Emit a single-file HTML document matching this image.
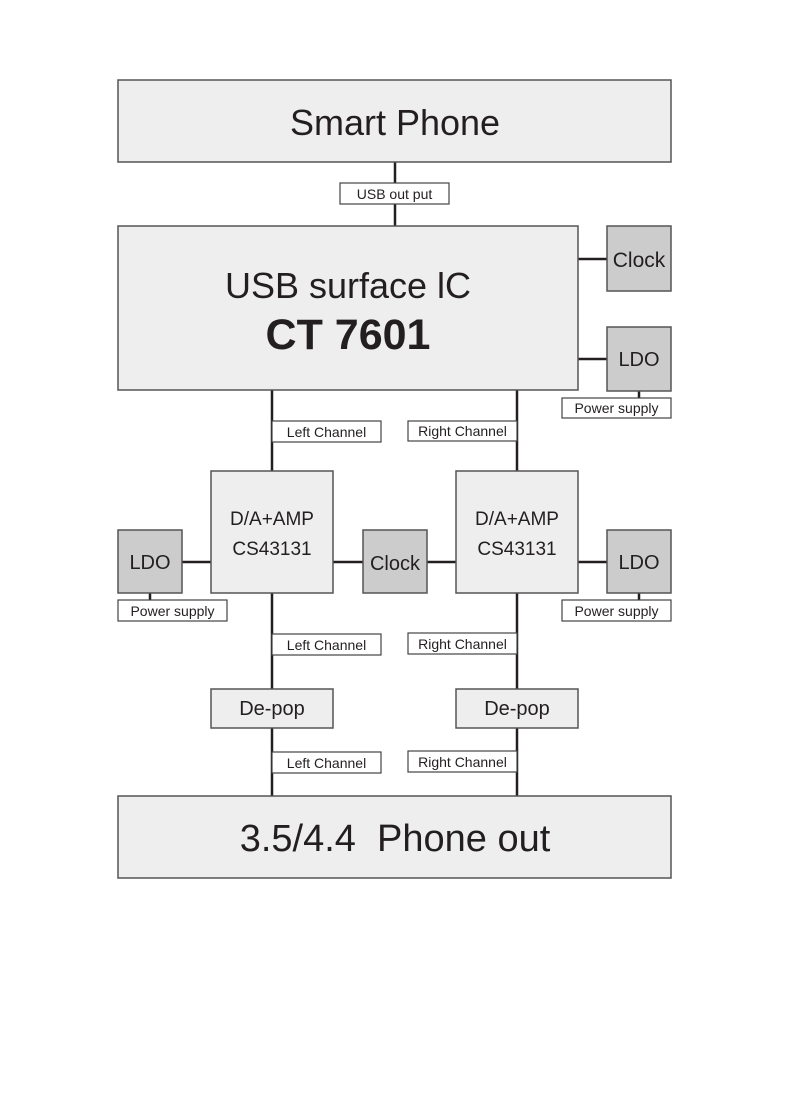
<!DOCTYPE html>
<html><head><meta charset="utf-8"><style>
html,body{margin:0;padding:0;background:#fff;}
svg{display:block;}
text{font-family:"Liberation Sans",sans-serif;fill:#231f20;}
</style></head><body>
<svg width="790" height="1115" viewBox="0 0 790 1115" xmlns="http://www.w3.org/2000/svg">
<g stroke="#231f20" stroke-width="2.5" fill="none">
<line x1="395" y1="162" x2="395" y2="226"/>
<line x1="578" y1="259" x2="607" y2="259"/>
<line x1="578" y1="359" x2="607" y2="359"/>
<line x1="639" y1="391" x2="639" y2="398"/>
<line x1="272" y1="390" x2="272" y2="471"/>
<line x1="517" y1="390" x2="517" y2="471"/>
<line x1="182" y1="562" x2="211" y2="562"/>
<line x1="333" y1="562" x2="363" y2="562"/>
<line x1="427" y1="562" x2="456" y2="562"/>
<line x1="578" y1="562" x2="607" y2="562"/>
<line x1="150" y1="593" x2="150" y2="600"/>
<line x1="639" y1="593" x2="639" y2="600"/>
<line x1="272" y1="593" x2="272" y2="689"/>
<line x1="517" y1="593" x2="517" y2="689"/>
<line x1="272" y1="728" x2="272" y2="796"/>
<line x1="517" y1="728" x2="517" y2="796"/>
</g>
<g stroke="#555" stroke-width="1.5" fill="#eeeeee">
<rect x="118" y="80" width="553" height="82"/>
<rect x="118" y="226" width="460" height="164"/>
<rect x="211" y="471" width="122" height="122"/>
<rect x="456" y="471" width="122" height="122"/>
<rect x="211" y="689" width="122" height="39"/>
<rect x="456" y="689" width="122" height="39"/>
<rect x="118" y="796" width="553" height="82"/>
</g>
<g stroke="#555" stroke-width="1.5" fill="#cccccc">
<rect x="607" y="226" width="64" height="65"/>
<rect x="607" y="327" width="64" height="64"/>
<rect x="118" y="530" width="64" height="63"/>
<rect x="363" y="530" width="64" height="63"/>
<rect x="607" y="530" width="64" height="63"/>
</g>
<g stroke="#444" stroke-width="1.2" fill="#fff">
<rect x="340" y="183" width="109" height="21"/>
<rect x="562" y="398" width="109" height="20"/>
<rect x="272" y="421" width="109" height="21"/>
<rect x="408" y="421" width="109" height="20"/>
<rect x="118" y="600" width="109" height="21"/>
<rect x="562" y="600" width="109" height="21"/>
<rect x="272" y="634" width="109" height="21"/>
<rect x="408" y="633" width="109" height="21"/>
<rect x="272" y="752" width="109" height="21"/>
<rect x="408" y="751" width="109" height="21"/>
</g>
<g font-size="14" text-anchor="middle" style="font-weight:300">
<text x="394.5" y="199">USB out put</text>
<text x="616.5" y="413">Power supply</text>
<text x="326.5" y="437">Left Channel</text>
<text x="462.5" y="436">Right Channel</text>
<text x="172.5" y="616">Power supply</text>
<text x="616.5" y="616">Power supply</text>
<text x="326.5" y="650">Left Channel</text>
<text x="462.5" y="649">Right Channel</text>
<text x="326.5" y="768">Left Channel</text>
<text x="462.5" y="767">Right Channel</text>
</g>
<g text-anchor="middle">
<text x="395" y="135" font-size="36">Smart Phone</text>
<text x="348" y="298" font-size="36">USB surface lC</text>
<text x="348" y="349" font-size="43" font-weight="600">CT 7601</text>
<text x="639" y="267" font-size="21">Clock</text>
<text x="639" y="366" font-size="20">LDO</text>
<text x="272" y="525" font-size="19">D/A+AMP</text>
<text x="272" y="555" font-size="19">CS43131</text>
<text x="517" y="525" font-size="19">D/A+AMP</text>
<text x="517" y="555" font-size="19">CS43131</text>
<text x="150" y="569" font-size="20">LDO</text>
<text x="395" y="570" font-size="20">Clock</text>
<text x="639" y="569" font-size="20">LDO</text>
<text x="272" y="715" font-size="20">De-pop</text>
<text x="517" y="715" font-size="20">De-pop</text>
<text x="395" y="851" font-size="38" style="white-space:pre">3.5/4.4  Phone out</text>
</g>
</svg>
</body></html>
